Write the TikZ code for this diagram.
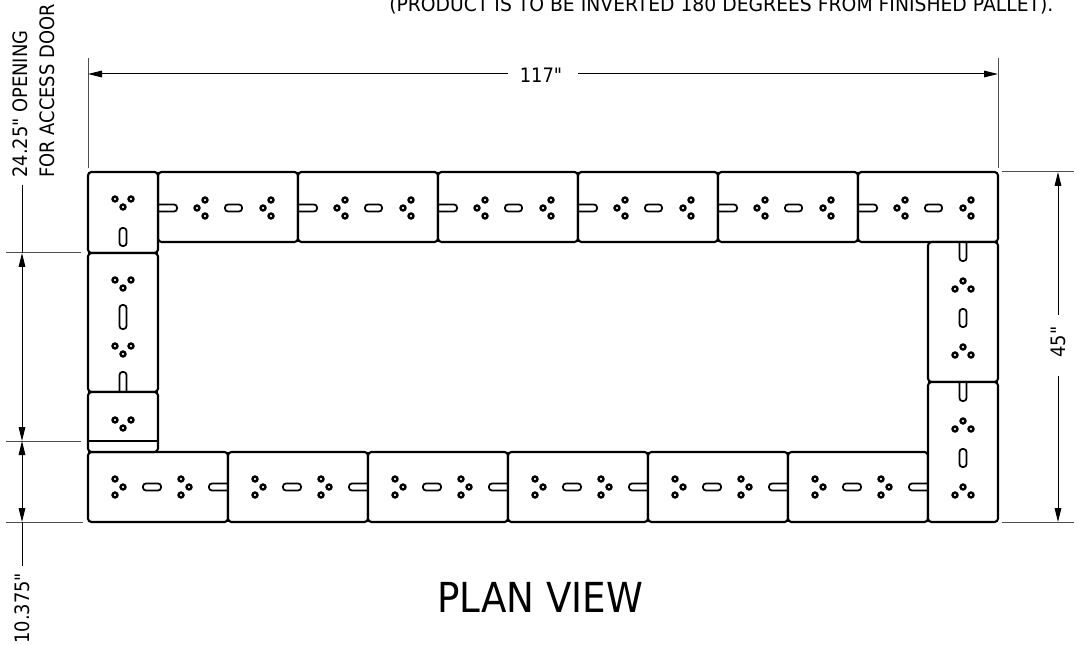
\documentclass[tikz,border=0pt]{standalone}
\usepackage{fontspec}
\setmainfont{DejaVu Sans}[FakeStretch=0.9,Ligatures=TeXOff]
\usetikzlibrary{arrows.meta}
\tikzset{
  panel/.style={draw=black,line width=1.6pt,rounded corners=2.6pt,fill=white},
  divider/.style={draw=black,line width=1.5pt},
  hole/.style={draw=black,line width=1.8pt},
  slot/.style={draw=black,line width=1.3pt,rounded corners=2.2pt},
  dimline/.style={draw=black,line width=0.75pt},
  extline/.style={draw=black!70,line width=0.75pt},
  dimarrow/.style={dimline,{Triangle[length=10.5pt,width=5pt]}-{Triangle[length=10.5pt,width=5pt]}},
  oneend/.style={dimline,-{Triangle[length=10.5pt,width=5pt]}},
  label/.style={inner sep=0pt,font=\fontsize{14.9pt}{16pt}\selectfont},
  title/.style={inner sep=0pt,font=\fontsize{31pt}{34pt}\selectfont}
}
% three-hole clusters
\newcommand{\hl}[2]{\draw[hole] (#1,#2) circle[radius=1.85pt];}
\newcommand{\clusterL}[2]{\hl{#1}{#2}\hl{#1+8}{#2-8}\hl{#1+8}{#2+8}}   % point to the left
\newcommand{\clusterR}[2]{\hl{#1}{#2}\hl{#1-8}{#2-8}\hl{#1-8}{#2+8}}   % point to the right
\newcommand{\clusterD}[2]{\hl{#1}{#2}\hl{#1-8}{#2-8}\hl{#1+8}{#2-8}}   % point down
\newcommand{\clusterU}[2]{\hl{#1}{#2}\hl{#1-8}{#2+8}\hl{#1+8}{#2+8}}   % point up
% closed and open slots
\newcommand{\hslot}[3]{\draw[slot] (#1,#3-3.5) rectangle (#2,#3+3.5);}
\newcommand{\vslot}[3]{\draw[slot] (#1-3.5,#2) rectangle (#1+3.5,#3);}
\begin{document}
\begin{tikzpicture}[x=0.75pt,y=-0.75pt]
\useasboundingbox (0,0) rectangle (1078,645);

% top row
\foreach \X in {158,298,438,578,718,858}{
  \draw[panel] (\X,172) rectangle (\X+140,242);
  \clusterL{\X+39}{208}
  \hslot{\X+67}{\X+84}{208}
  \clusterL{\X+105}{208}
  \draw[slot] (\X,204.5) -- (\X+19,204.5) -- (\X+19,211.5) -- (\X,211.5);
}
% bottom row
\foreach \X in {88,228,368,508,648,788}{
  \draw[panel] (\X,452) rectangle (\X+140,522);
  \clusterR{\X+35}{487}
  \hslot{\X+55}{\X+73}{487}
  \clusterR{\X+101}{487}
  \draw[slot] (\X+140,483.5) -- (\X+121,483.5) -- (\X+121,490.5) -- (\X+140,490.5);
}
% right column
\foreach \Y in {242,382}{
  \draw[panel] (928,\Y) rectangle (998,\Y+140);
  \clusterU{963}{\Y+39}
  \vslot{963}{\Y+67}{\Y+85}
  \clusterU{963}{\Y+105}
  \draw[slot] (959.5,\Y) -- (959.5,\Y+19) -- (966.5,\Y+19) -- (966.5,\Y);
}
% left column
\draw[panel] (88,172) rectangle (158,253);
\clusterD{123}{207}
\vslot{123}{228}{246}
\draw[panel] (88,253) rectangle (158,392);
\clusterD{123}{288}
\vslot{123}{305}{329}
\clusterD{123}{354}
\draw[slot] (119.5,392) -- (119.5,372) -- (126.5,372) -- (126.5,392);
\draw[panel] (88,392) rectangle (158,452);
\clusterD{123}{428}
\draw[divider] (88,441) -- (158,441);

% overall width
\coordinate (wl) at (88,74);
\coordinate (wr) at (998,74);
\draw[extline] (88,58) -- (88,168);
\draw[extline] (998,58) -- (998,168);
\node[label] (width) at (541,75) {117"};
\coordinate (wgl) at (508,74);
\coordinate (wgr) at (578,74);
\draw[oneend] (wgl) -- (wl);
\draw[oneend] (wgr) -- (wr);

% overall depth
\coordinate (dt) at (1058,172);
\coordinate (db) at (1058,522);
\draw[extline] (1002,172) -- (1074,172);
\draw[extline] (1002,522) -- (1074,522);
\node[label,rotate=90] (depth) at (1058,342) {45"};
\coordinate (dgt) at (1058,315);
\coordinate (dgb) at (1058,376);
\draw[oneend] (dgt) -- (dt);
\draw[oneend] (dgb) -- (db);

% left dimensions
\coordinate (a) at (22,253);
\coordinate (b) at (22,441);
\coordinate (c) at (22,522);
\coordinate (atop) at (22,185);
\coordinate (cbot) at (22,566);
\draw[extline] (6,253) -- (81,253);
\draw[extline] (6,441) -- (81,441);
\draw[extline] (6,522) -- (83,522);
\draw[dimline] (atop) -- (a);
\draw[dimarrow] (a) -- (b);
\draw[dimarrow] (b) -- (c);
\draw[dimline] (c) -- (cbot);

% texts
\node[label,anchor=base west,xscale=1.05] (note) at (389,12) {(PRODUCT IS TO BE INVERTED 180 DEGREES FROM FINISHED PALLET).};
\node[label,rotate=90,anchor=base west] (open) at (27,178) {24.25" OPENING};
\node[label,rotate=90,anchor=base west] (door) at (54,178) {FOR ACCESS DOOR};
\node[label,rotate=90,anchor=base west] (small) at (29,644) {10.375"};
\node[title,anchor=base west] (plan) at (437,612) {PLAN VIEW};
\end{tikzpicture}
\end{document}
